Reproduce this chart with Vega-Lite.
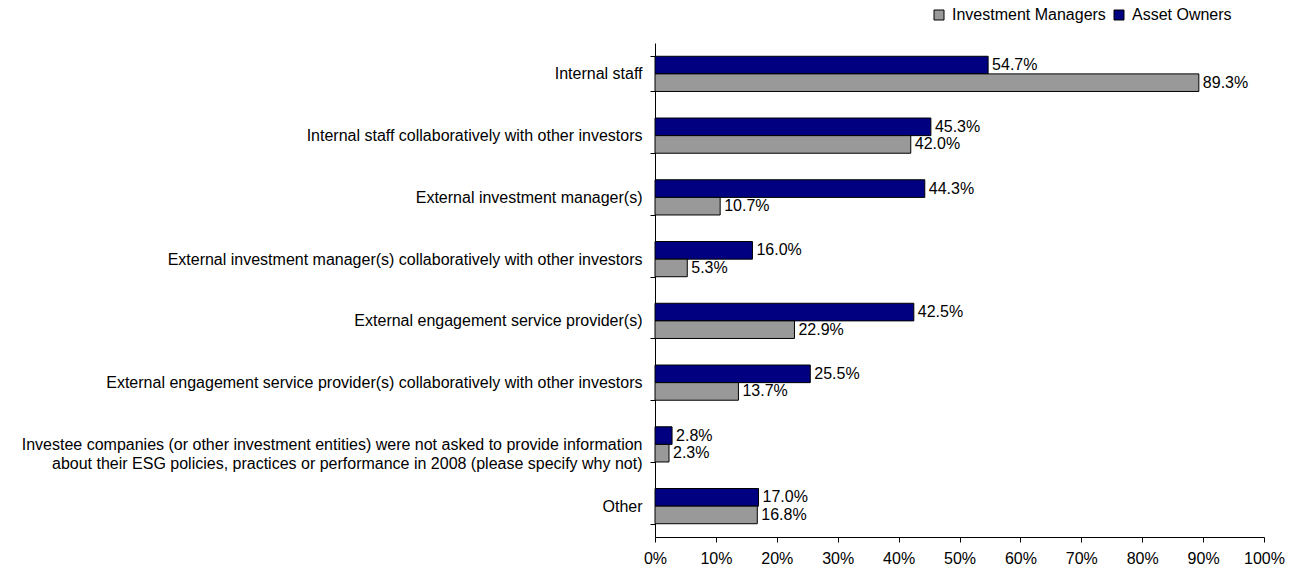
{
  "$schema": "https://vega.github.io/schema/vega-lite/v6.json",
  "width": 609,
  "height": 494,
  "autosize": {"type": "none"},
  "padding": {"left": 655, "top": 43, "right": 32, "bottom": 34},
  "background": "white",
  "config": {
    "view": {"stroke": null},
    "font": "Liberation Sans",
    "axis": {"labelFont": "Liberation Sans", "labelFontSize": 16, "labelColor": "black", "domainColor": "black", "tickColor": "black", "grid": false, "title": null},
    "legend": {"labelFont": "Liberation Sans", "labelFontSize": 16, "labelColor": "black"}
  },
  "data": {
    "values": [
      {"category": "Internal staff", "group": "Asset Owners", "value": 0.547},
      {"category": "Internal staff", "group": "Investment Managers", "value": 0.893},
      {"category": "Internal staff collaboratively with other investors", "group": "Asset Owners", "value": 0.453},
      {"category": "Internal staff collaboratively with other investors", "group": "Investment Managers", "value": 0.420},
      {"category": "External investment manager(s)", "group": "Asset Owners", "value": 0.443},
      {"category": "External investment manager(s)", "group": "Investment Managers", "value": 0.107},
      {"category": "External investment manager(s) collaboratively with other investors", "group": "Asset Owners", "value": 0.160},
      {"category": "External investment manager(s) collaboratively with other investors", "group": "Investment Managers", "value": 0.053},
      {"category": "External engagement service provider(s)", "group": "Asset Owners", "value": 0.425},
      {"category": "External engagement service provider(s)", "group": "Investment Managers", "value": 0.229},
      {"category": "External engagement service provider(s) collaboratively with other investors", "group": "Asset Owners", "value": 0.255},
      {"category": "External engagement service provider(s) collaboratively with other investors", "group": "Investment Managers", "value": 0.137},
      {"category": "Investee companies (or other investment entities) were not asked to provide information about their ESG policies, practices or performance in 2008 (please specify why not)", "group": "Asset Owners", "value": 0.028},
      {"category": "Investee companies (or other investment entities) were not asked to provide information about their ESG policies, practices or performance in 2008 (please specify why not)", "group": "Investment Managers", "value": 0.023},
      {"category": "Other", "group": "Asset Owners", "value": 0.170},
      {"category": "Other", "group": "Investment Managers", "value": 0.168}
    ]
  },
  "encoding": {
    "y": {
      "field": "category",
      "type": "nominal",
      "sort": null,
      "scale": {"paddingInner": 0.43, "paddingOuter": 0.215},
      "axis": {
        "tickBand": "extent",
        "tickSize": 5,
        "labelPadding": 8,
        "labelLimit": 1000,
        "labelLineHeight": 19,
        "labelExpr": "indexof(datum.label, ' about their') > 0 ? [slice(datum.label, 0, indexof(datum.label, ' about their')), slice(datum.label, indexof(datum.label, ' about their') + 1) + '\u00a0\u00a0\u00a0'] : datum.label"
      }
    },
    "yOffset": {
      "field": "group",
      "type": "nominal",
      "sort": ["Asset Owners", "Investment Managers"],
      "scale": {"paddingInner": 0, "paddingOuter": 0}
    },
    "x": {
      "field": "value",
      "type": "quantitative",
      "scale": {"domain": [0, 1], "nice": false},
      "axis": {"format": ".0%", "values": [0, 0.1, 0.2, 0.3, 0.4, 0.5, 0.6, 0.7, 0.8, 0.9, 1.0], "tickSize": 5, "labelPadding": 8, "labelFlush": false, "labelOverlap": false}
    }
  },
  "layer": [
    {
      "mark": {"type": "bar", "stroke": "black", "strokeWidth": 1},
      "encoding": {
        "color": {
          "field": "group",
          "type": "nominal",
          "scale": {"domain": ["Investment Managers", "Asset Owners"], "range": ["#999999", "#000080"]},
          "legend": {
            "title": null,
            "orient": "none",
            "direction": "horizontal",
            "legendX": 276,
            "legendY": -36,
            "symbolType": "square",
            "symbolSize": 100,
            "symbolStrokeColor": "black",
            "symbolStrokeWidth": 1,
            "symbolOpacity": 1,
            "labelOffset": 5,
            "columnPadding": 5
          }
        }
      }
    },
    {
      "mark": {"type": "text", "align": "left", "baseline": "middle", "dx": 4, "fontSize": 16, "color": "black"},
      "encoding": {
        "text": {"field": "value", "type": "quantitative", "format": ".1%"}
      }
    }
  ]
}
